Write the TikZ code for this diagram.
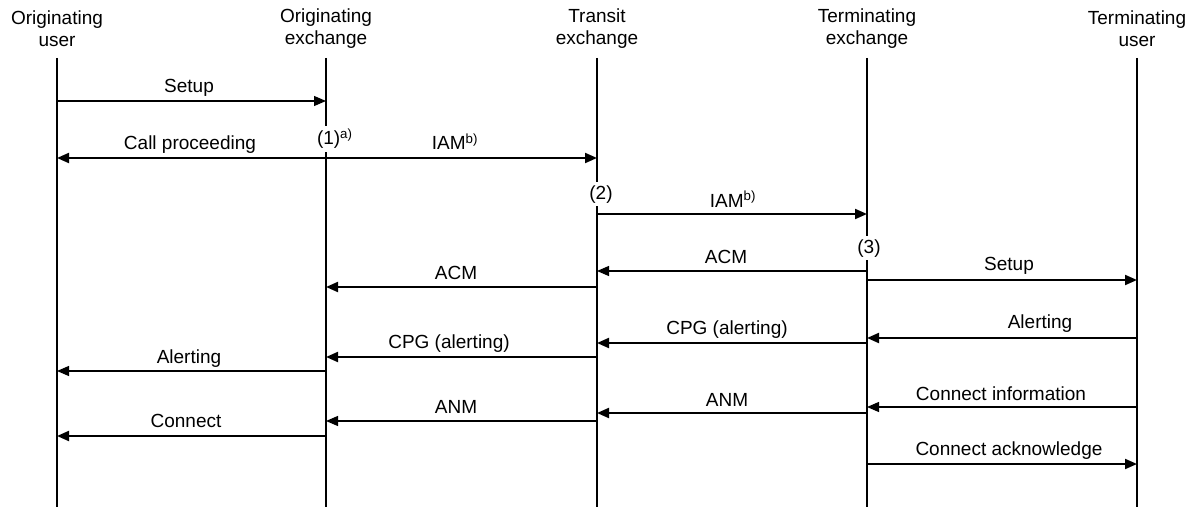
\documentclass[tikz,border=0pt]{standalone}
\usepackage{fontspec}
\setmainfont{Liberation Sans}
\usetikzlibrary{arrows.meta}

\begin{document}
\begin{tikzpicture}[x=1pt,y=1pt,
  every node/.style={font=\fontsize{19}{22}\selectfont,inner sep=0pt,outer sep=0pt},
  party/.style={align=center},
  lifeline/.style={draw=drawColor,line width=2pt},
  msg/.style={draw=drawColor,line width=2pt,-{Triangle[length=12pt,width=10pt]}},
  msgthin/.style={draw=drawColor,line width=1.2pt,-{Triangle[length=12pt,width=10pt]}},
  lbl/.style={text=drawColor,anchor=base},
  point/.style={text=drawColor,anchor=base,fill=white,inner xsep=1pt,inner ysep=3pt}]
\definecolor{drawColor}{RGB}{0,0,0}
\path[use as bounding box,fill=white] (0,0) rectangle (1197,507);

% parties
\node[party] (ouser) at (  57,478) {Originating\\user};
\node[party] (oexch) at ( 326,478) {Originating\\exchange};
\node[party] (texch) at ( 597,478) {Transit\\exchange};
\node[party] (mexch) at ( 867,478) {Terminating\\exchange};
\node[party] (tuser) at (1137,478) {Terminating\\user};

% lifelines
\coordinate (ouserend) at (  57,0);
\coordinate (oexchend) at ( 326,0);
\coordinate (texchend) at ( 597,0);
\coordinate (mexchend) at ( 867,0);
\coordinate (tuserend) at (1137,0);
\draw[lifeline] (ouser |- 0,449) -- (ouserend);
\draw[lifeline] (oexch |- 0,449) -- (oexchend);
\draw[lifeline] (texch |- 0,449) -- (texchend);
\draw[lifeline] (mexch |- 0,449) -- (mexchend);
\draw[lifeline] (tuser |- 0,449) -- (tuserend);

% call set-up
\draw[msgthin] (ouser |- 0,406) -- (oexch |- 0,406);
\node[lbl] (setupa) at (189,414) {Setup};

\draw[msg] (oexch |- 0,349) -- (ouser |- 0,349);
\node[lbl] (callproc) at (190,357) {Call proceeding};
\draw[msg] (oexch |- 0,349) -- (texch |- 0,349);
\node[lbl] (iama) at (455,357) {IAM\textsuperscript{b)}};
\node[point,anchor=base west] (stepa) at (316,362) {(1)\textsuperscript{a)}};

\draw[msg] (texch |- 0,293) -- (mexch |- 0,293);
\node[lbl] (iamb) at (733,300) {IAM\textsuperscript{b)}};
\node[point] (stepb) at (601,308) {(2)};

\draw[msgthin] (mexch |- 0,236) -- (texch |- 0,236);
\node[lbl] (acma) at (726,244) {ACM};
\node[point] (stepc) at (869,254) {(3)};

\draw[msg] (mexch |- 0,227) -- (tuser |- 0,227);
\node[lbl] (setupb) at (1009,237) {Setup};

\draw[msg] (texch |- 0,220) -- (oexch |- 0,220);
\node[lbl] (acmb) at (456,228) {ACM};

% alerting
\draw[msg] (tuser |- 0,169) -- (mexch |- 0,169);
\node[lbl] (alerta) at (1040,179) {Alerting};

\draw[msg] (mexch |- 0,164) -- (texch |- 0,164);
\node[lbl] (cpga) at (727,173) {CPG (alerting)};

\draw[msg] (texch |- 0,150) -- (oexch |- 0,150);
\node[lbl] (cpgb) at (449,159) {CPG (alerting)};

\draw[msgthin] (oexch |- 0,136) -- (ouser |- 0,136);
\node[lbl] (alertb) at (189,144) {Alerting};

% answer
\draw[msgthin] (tuser |- 0,100) -- (mexch |- 0,100);
\node[lbl] (conninfo) at (1001,107) {Connect information};

\draw[msg] (mexch |- 0,94) -- (texch |- 0,94);
\node[lbl] (anma) at (727,101) {ANM};

\draw[msgthin] (texch |- 0,86) -- (oexch |- 0,86);
\node[lbl] (anmb) at (456,94) {ANM};

\draw[msg] (oexch |- 0,71) -- (ouser |- 0,71);
\node[lbl] (connect) at (186,80) {Connect};

\draw[msg] (mexch |- 0,43) -- (tuser |- 0,43);
\node[lbl] (connack) at (1009,52) {Connect acknowledge};
\end{tikzpicture}
\end{document}
